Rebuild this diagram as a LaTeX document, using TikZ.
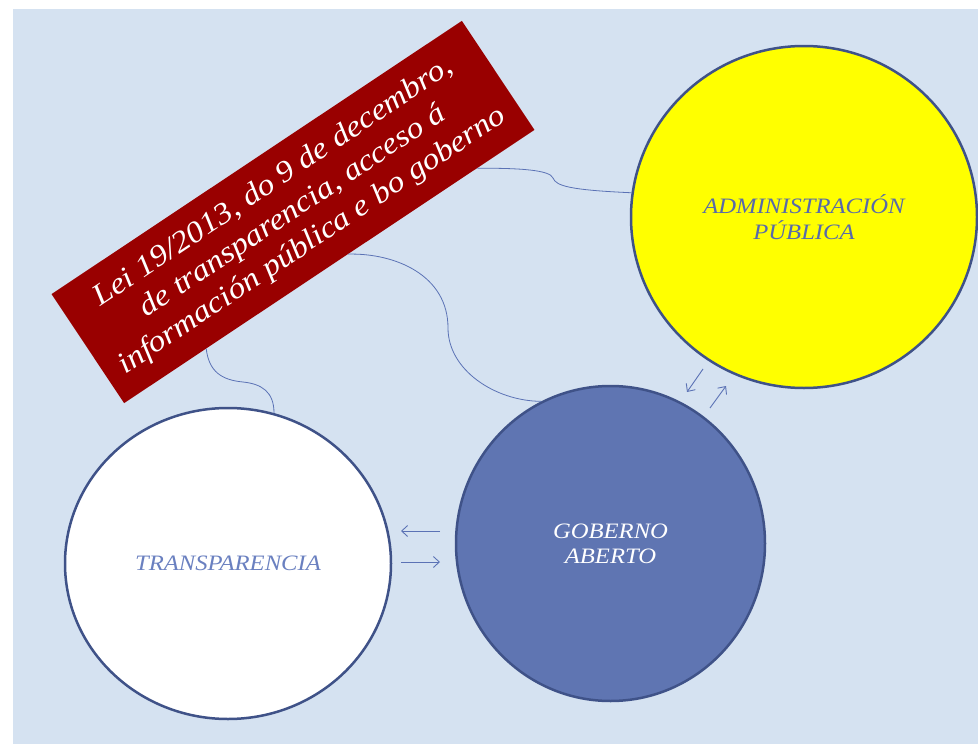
\documentclass[tikz,border=0pt]{standalone}
\usepackage{fontspec}
\setmainfont{Liberation Serif}[FakeStretch=1.12]
\usetikzlibrary{shapes.geometric,arrows.meta,calc}
\definecolor{bgblue}{RGB}{213,226,241}
\definecolor{boxred}{RGB}{153,0,0}
\definecolor{gobfill}{RGB}{95,117,178}
\definecolor{rimblue}{RGB}{63,82,136}
\definecolor{linkblue}{RGB}{91,114,181}
\definecolor{transtext}{RGB}{106,128,192}
\definecolor{admintext}{RGB}{88,106,170}
\definecolor{admfill}{RGB}{255,255,0}
\tikzset{
  conn/.style={draw=linkblue, line width=0.8pt},
  arr/.style={draw=linkblue, line width=0.9pt, -{Straight Barb[length=6pt,width=11pt]}},
  circ/.style={ellipse, draw=rimblue, line width=2.5pt, inner sep=0pt, align=center},
}
\begin{document}
\begin{tikzpicture}[x=1pt,y=-1pt]
\useasboundingbox (0,0) rectangle (978,744);
\fill[white] (0,0) rectangle (978,744);
\fill[bgblue] (13,9) rectangle (978,744);

\node[circ, fill=white, minimum width=326pt, minimum height=311pt, text=transtext,
      font=\itshape\fontsize{22}{27}\selectfont] (tr) at (228,563.5) {TRANSPARENCIA};
\node[circ, fill=gobfill, minimum width=309pt, minimum height=315pt, text=white,
      font=\itshape\fontsize{22}{25}\selectfont] (gob) at (610.5,543.5) {GOBERNO\\ABERTO};
\node[circ, fill=admfill, minimum width=346pt, minimum height=342pt, text=admintext,
      font=\itshape\fontsize{22}{26}\selectfont] (adm) at (804,217) {ADMINISTRACIÓN\\PÚBLICA};

\node[fill=boxred, rotate=33.66, minimum width=493pt, minimum height=131pt, inner sep=0pt,
      text=white, align=center, font=\itshape\fontsize{30}{35}\selectfont] (law) at (293,212)
      {Lei 19/2013, do 9 de decembro,\\de transparencia, acceso á\\información pública e bo goberno};

\draw[conn] ($(law.south west)!0.2!(law.south east)$) .. controls (209,372) and (222,380) .. (243,382)
            .. controls (262,384) and (274,392) .. (tr.73);
\draw[conn] ($(law.south west)!0.546!(law.south east)$) .. controls (395,253) and (448,275) .. (448,328)
            .. controls (448,370) and (495,401) .. (gob.116);
\draw[conn] ($(law.south west)!0.86!(law.south east)$) .. controls (520,168) and (550,170) .. (553,178)
            .. controls (556,186) and (570,190) .. (adm.172);

\coordinate (a1s) at (440,531);
\coordinate (a1e) at (401,531);
\coordinate (a2s) at (401,562);
\coordinate (a2e) at (440,562);
\coordinate (a3s) at (703,369);
\coordinate (a3e) at (687,392);
\coordinate (a4s) at (710,408);
\coordinate (a4e) at (726,386);
\draw[arr] (a1s) -- (a1e);
\draw[arr] (a2s) -- (a2e);
\draw[arr] (a3s) -- (a3e);
\draw[arr] (a4s) -- (a4e);
\end{tikzpicture}
\end{document}
